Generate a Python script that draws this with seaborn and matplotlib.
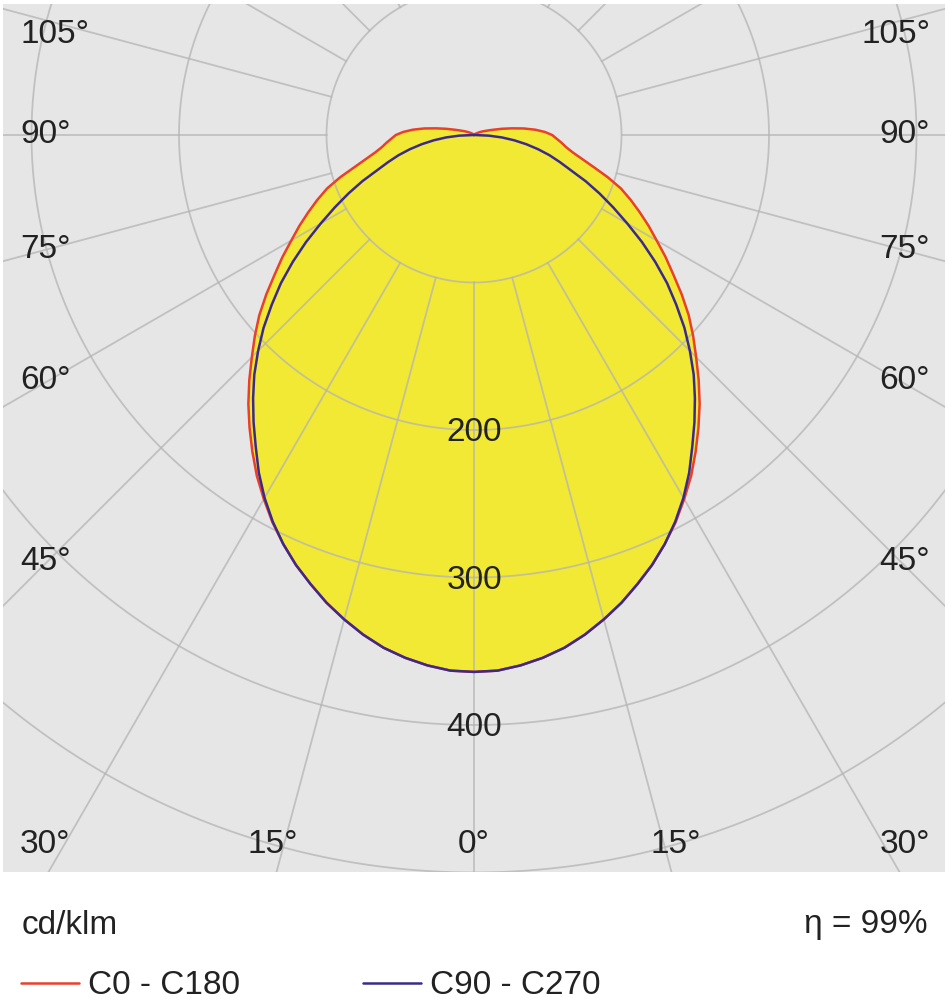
import matplotlib
matplotlib.use("Agg")

import matplotlib.pyplot as plt
import numpy as np
import pandas as pd
import seaborn as sns

# gamma angles (deg from nadir) and intensities in cd/klm
angles = np.arange(0, 180.1, 2.5)
c0_c180 = [364, 363.5, 361, 357.5, 353, 347, 340, 332.5, 324, 315.5, 306, 296,
           285, 274, 262, 250, 238, 225.5, 213, 201.5, 190, 177.5, 165, 154,
           143, 133.5, 124, 115, 106, 95, 84, 75, 68, 63, 59.5, 56,
           53, 48, 41.5, 34, 26, 19.5, 14, 10.5, 8, 6.5, 5, 4,
           3, 2.5, 2, 1.5, 1, 0.5, 0, 0, 0, 0, 0, 0, 0, 0, 0, 0,
           0, 0, 0, 0, 0, 0, 0, 0, 0]
c90_c270 = [364, 363.5, 361, 357.5, 353, 347, 340, 332.5, 324, 315.5, 306, 295.5,
            284, 271.5, 258, 245.5, 233, 220.5, 207, 193.5, 179, 165, 150, 135,
            120, 106.5, 94, 82, 70, 61, 53, 44.5, 36, 27.5, 19, 10,
            0, 0, 0, 0, 0, 0, 0, 0, 0, 0, 0, 0, 0, 0, 0, 0, 0, 0, 0, 0,
            0, 0, 0, 0, 0, 0, 0, 0, 0, 0, 0, 0, 0, 0, 0, 0, 0]
series_names = ["C0 - C180", "C90 - C270"]
series_colors = ["#e8402a", "#3b2a8c"]

ring_values = [100, 200, 300, 400, 500]
ring_labels = ["200", "300", "400"]
spoke_angles = np.arange(0, 360, 15)
side_labels = [105, 90, 75, 60, 45, 30]
bottom_labels = [15, 0, 15]
bottom_label_angles = [-15, 0, 15]
eta_text = "η = 99%"
unit_text = "cd/klm"

BG = "#e6e6e6"
GRID = "#b4b4b4"
FILL = "#f2e935"
TEXT = "#222222"
FS = 24


def to_xy(gamma_deg, r):
    g = np.radians(gamma_deg)
    return r * np.sin(g), -r * np.cos(g)


def mirrored(values):
    v = np.asarray(values, dtype=float)
    th = np.concatenate([-angles[::-1], angles[1:]])
    rr = np.concatenate([v[::-1], v[1:]])
    return th, rr


sns.set_theme(style="white")
plt.rcParams["font.family"] = ["Liberation Sans", "DejaVu Sans"]

fig = plt.figure(figsize=(9.49, 10), dpi=100)
ax = fig.add_axes([3 / 949, 128 / 1000, 942 / 949, 868 / 1000])
ax.set_facecolor(BG)

frames = []
for name, vals in zip(series_names, [c0_c180, c90_c270]):
    th, rr = mirrored(vals)
    x, y = to_xy(th, rr)
    frames.append(pd.DataFrame({"x": x, "y": y, "curve": name}))
curves = pd.concat(frames, ignore_index=True)

# yellow fill of both distributions
for name in series_names:
    d = curves[curves["curve"] == name]
    ax.fill(d["x"], d["y"], color=FILL, lw=0, zorder=1)

# polar grid
t = np.linspace(0, 360, 721)
for rv in ring_values:
    gx, gy = to_xy(t, rv)
    ax.plot(gx, gy, color=GRID, lw=1.3, alpha=0.75, zorder=2)
for a in spoke_angles:
    sx, sy = to_xy(np.array([a, a]), np.array([100, 700]))
    ax.plot(sx, sy, color=GRID, lw=1.3, alpha=0.75, zorder=2)

sns.lineplot(data=curves, x="x", y="y", hue="curve", sort=False, estimator=None,
             units="curve", palette=dict(zip(series_names, series_colors)),
             lw=1.8, ax=ax, zorder=3)
handles, labels = ax.get_legend_handles_labels()
ax.get_legend().remove()

scale = 1.475  # px per cd/klm
ax.set_xlim((3 - 474) / scale, (945 - 474) / scale)
ax.set_ylim(-(872 - 135) / scale, (135 - 4) / scale)
ax.set_aspect("equal")
ax.set_xticks([])
ax.set_yticks([])
ax.set_xlabel("")
ax.set_ylabel("")
for s in ax.spines.values():
    s.set_visible(False)

# radial value labels along the 0 deg line
for lab in ring_labels:
    ax.text(0, -float(lab) - 2, lab, ha="center", va="center", fontsize=FS, color=TEXT, zorder=4)

# angle labels on the left and right edges, following the spokes
inset = 426 / scale
top_clip = (135 - 35) / scale
bottom_clip = -(845 - 135) / scale
for a in side_labels:
    yv = np.clip(-inset / np.tan(np.radians(a)), bottom_clip, top_clip)
    ax.text((20 - 474) / scale, yv, f"{a}°", ha="left", va="center",
            fontsize=FS, color=TEXT, zorder=4)
    ax.text((930 - 474) / scale, yv, f"{a}°", ha="right", va="center",
            fontsize=FS, color=TEXT, zorder=4)

for a, lab in zip(bottom_label_angles, bottom_labels):
    xv = 510 * np.tan(np.radians(a))
    ax.text(xv, bottom_clip, f"{lab}°", ha="center", va="center", fontsize=FS, color=TEXT, zorder=4)

fig.text(22 / 949, 1 - 925 / 1000, unit_text, ha="left", va="center", fontsize=FS, color=TEXT)
fig.text(928 / 949, 1 - 925 / 1000, eta_text, ha="right", va="center", fontsize=FS, color=TEXT)

fig.legend(handles, labels, loc="center left", bbox_to_anchor=(21 / 949, 1 - 986 / 1000),
           ncol=2, frameon=False, fontsize=FS, handlelength=1.75, handletextpad=0.25,
           columnspacing=3.7, borderpad=0, borderaxespad=0, labelcolor=TEXT)

fig.savefig("out.png", dpi=100, facecolor="white")
